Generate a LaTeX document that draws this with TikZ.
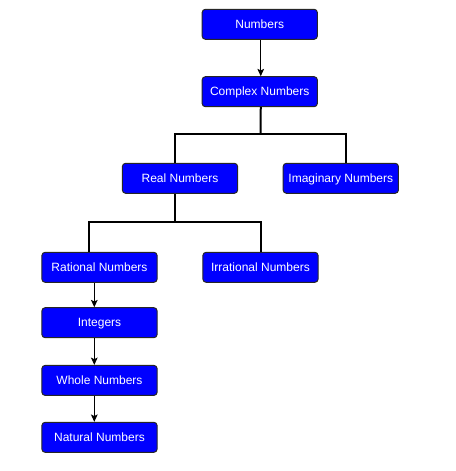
\documentclass[tikz,border=0pt]{standalone}
\usepackage{fontspec}
\setmainfont{Liberation Sans}
\usetikzlibrary{arrows.meta}
\begin{document}
\begin{tikzpicture}[x=0.75pt,y=-0.75pt,
  box/.style={draw=black!85,line width=0.75pt,fill={rgb,255:red,0;green,0;blue,255},rounded corners=2.5pt,
    text=white,font=\fontsize{9pt}{11pt}\selectfont,minimum height=22.5pt,inner sep=0pt,
    text height=6.2pt,text depth=0pt},
  wbox/.style={box,minimum width=86.5pt},
  bus/.style={draw=black,line width=1.5pt},
  arr/.style={draw=black,line width=0.75pt,-{Stealth[length=5.5pt,width=5pt,inset=1.2pt]}}]
\useasboundingbox (0,0) rectangle (456,471);
\node[wbox] (num) at (259.75,24.3) {Numbers};
\node[wbox] (cx) at (259.75,91.7) {Complex Numbers};
\node[wbox] (re) at (180,178.3) {Real Numbers};
\node[wbox] (im) at (340.8,178.3) {Imaginary Numbers};
\node[wbox] (ra) at (99.5,267.3) {Rational Numbers};
\node[wbox] (ir) at (260.5,267.3) {Irrational Numbers};
\node[wbox] (in) at (99.5,322.7) {Integers};
\node[wbox] (wh) at (99.5,380.4) {Whole Numbers};
\node[wbox] (na) at (99.5,437.3) {Natural Numbers};
\coordinate (b1) at (260.7,134);
\coordinate (b2) at (175,221.7);
\draw[arr] ([shift={(1,0)}]num.south) -- ([shift={(1,0)}]cx.north);
\draw[bus] ([shift={(1,0)}]cx.south) -- (b1);
\draw[bus] ([shift={(-5,0)}]re.north) |- (b1) -| ([shift={(5.2,0)}]im.north);
\draw[bus] ([shift={(-5,0)}]re.south) -- (b2);
\draw[bus] ([shift={(-10.2,0)}]ra.north) |- (b2) -| ([shift={(0.2,0)}]ir.north);
\draw[arr] ([shift={(-5.2,0)}]ra.south) -- ([shift={(-5.2,0)}]in.north);
\draw[arr] ([shift={(-5.2,0)}]in.south) -- ([shift={(-5.2,0)}]wh.north);
\draw[arr] ([shift={(-5.2,0)}]wh.south) -- ([shift={(-5.2,0)}]na.north);
\end{tikzpicture}
\end{document}
